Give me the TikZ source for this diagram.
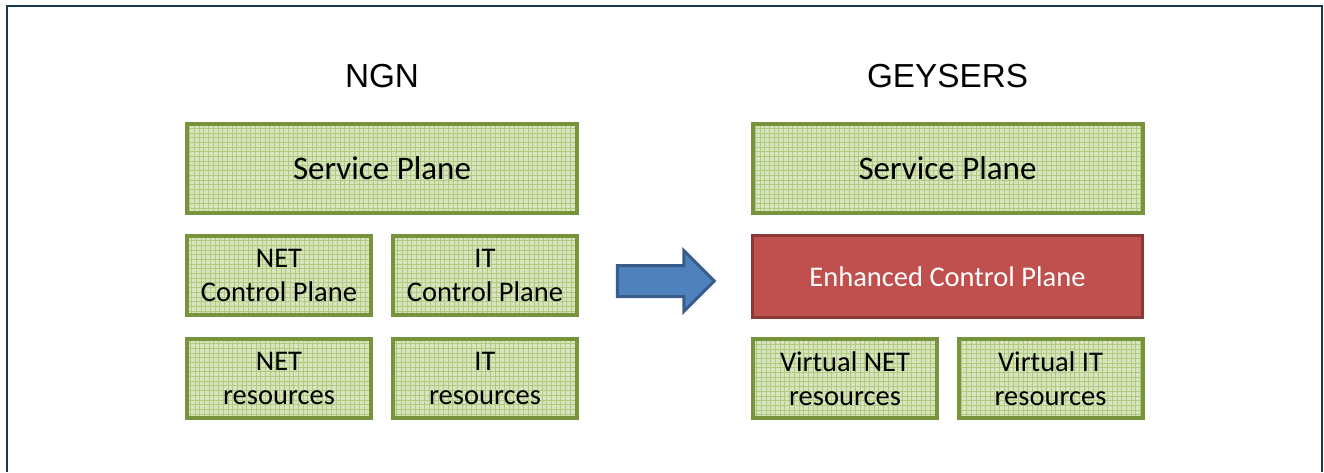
\documentclass[tikz,border=0pt]{standalone}
\usepackage{fontspec}
\setmainfont{Carlito}
\newfontfamily\titlefont{Liberation Sans}
\usetikzlibrary{shapes.arrows}
\definecolor{planefill}{HTML}{D7E4BD}
\definecolor{planegrid}{HTML}{B0CB80}
\definecolor{planeline}{HTML}{77933C}
\definecolor{ctrlfill}{HTML}{C0504D}
\definecolor{ctrlline}{HTML}{8C3836}
\definecolor{arrowfill}{HTML}{4F81BD}
\definecolor{arrowline}{HTML}{385D8A}
\definecolor{frameline}{HTML}{17394D}
\tikzset{
  plane/.style   = {rectangle, draw=planeline, fill=planefill, line width=4pt,
                    align=center, inner sep=2pt,
                    path picture={\draw[planegrid, line width=0.6pt]
                      (path picture bounding box.south west) grid[step=4.7pt]
                      (path picture bounding box.north east);}},
  bigplane/.style= {plane, font=\fontsize{33}{38}\selectfont,
                    minimum width=390pt, minimum height=89pt},
  subplane/.style= {plane, font=\fontsize{28.5}{34}\selectfont,
                    minimum width=184pt, minimum height=79pt},
  ctrlblk/.style = {rectangle, draw=ctrlline, fill=ctrlfill, line width=3pt,
                    text=white, font=\fontsize{28.5}{34}\selectfont,
                    minimum width=390pt, minimum height=82pt},
  ttl/.style     = {font=\titlefont\fontsize{33.3}{38}\selectfont},
  bigarrow/.style= {single arrow, draw=arrowline, fill=arrowfill, line width=3pt,
                    minimum height=97pt, minimum width=58pt, inner sep=14pt,
                    single arrow head extend=15pt, single arrow head indent=0pt},
}
\begin{document}
\begin{tikzpicture}[x=1pt, y=-1pt]
    \useasboundingbox (0,0) rectangle (1324,472);
    \draw[frameline, line width=2pt] (7,472) -- (7,6) -- (1322,6) -- (1322,472);
    % NGN
    \node[ttl] (ngn) at (382,76) {NGN};
    \node[bigplane] (sp1) at (382,168.5) {Service Plane};
    \node[subplane] (netcp) at (279,275.5) {NET\\Control Plane};
    \node[subplane] (itcp)  at (485,275.5) {IT\\Control Plane};
    \node[subplane] (netres) at (279,378.5) {NET\\resources};
    \node[subplane] (itres)  at (485,378.5) {IT\\resources};
    % migration arrow
    \node[bigarrow] (mig) at (658,281) {};
    % GEYSERS
    \node[ttl] (gey) at (947.5,76) {GEYSERS};
    \node[bigplane] (sp2) at (947.5,168.5) {Service Plane};
    \node[ctrlblk] (ecp) at (947.5,276.5) {Enhanced Control Plane};
    \node[subplane] (vnet) at (845,378.5) {Virtual NET\\resources};
    \node[subplane] (vit)  at (1050.5,378.5) {Virtual IT\\resources};
\end{tikzpicture}
\end{document}
